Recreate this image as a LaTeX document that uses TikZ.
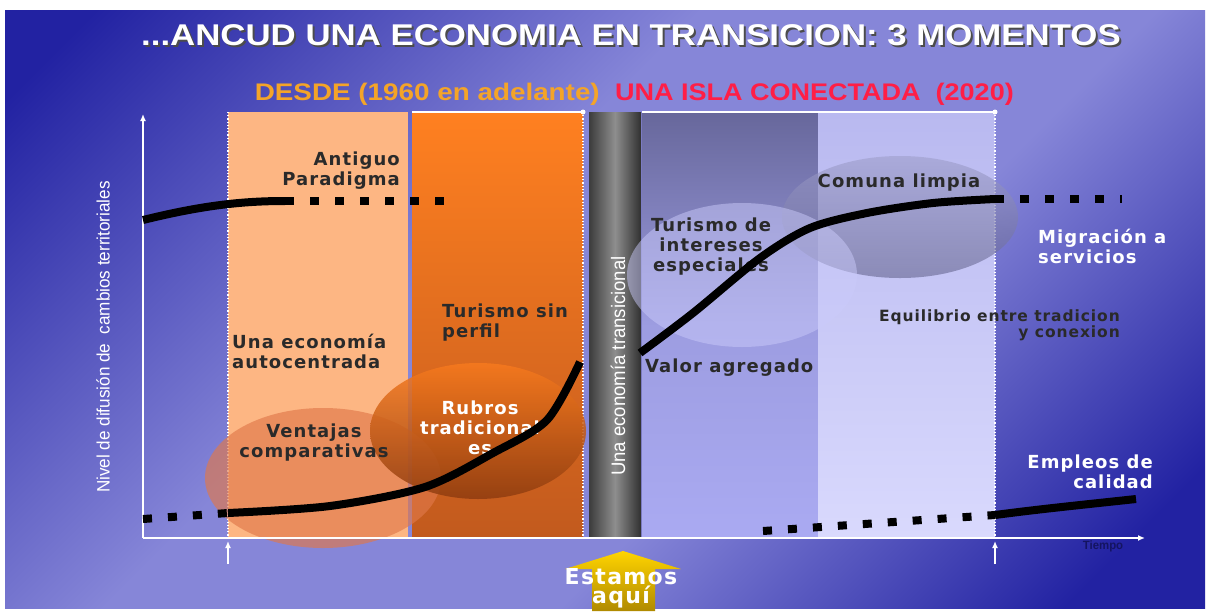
\documentclass[tikz,border=0pt]{standalone}
\usepackage{fontspec}
\setmainfont{Liberation Sans}
\newfontfamily\labfont[LetterSpace=6]{DejaVu Sans}
\newfontfamily\narrowfont[FakeStretch=0.95]{Liberation Sans}
\newfontfamily\widefont[FakeStretch=1.16]{Liberation Sans}
\usetikzlibrary{arrows.meta,positioning,calc}
\definecolor{bgdark}{HTML}{2222A2}
\definecolor{bglight}{HTML}{8686D8}
\definecolor{peach}{HTML}{FDB683}
\definecolor{orng}{HTML}{FF8020}
\definecolor{orngdk}{HTML}{C25A1E}
\definecolor{greydk}{HTML}{3C3C3C}
\definecolor{greylt}{HTML}{8E8E8E}
\definecolor{slate}{HTML}{67679B}
\definecolor{lav}{HTML}{AAAAF2}
\definecolor{lavlt}{HTML}{B9B9F0}
\definecolor{lavxl}{HTML}{D9D9FD}
\definecolor{salmon}{HTML}{E0784A}
\definecolor{rubtop}{HTML}{F77A1E}
\definecolor{rubbot}{HTML}{8E3C10}
\definecolor{turis}{HTML}{CACAFA}
\definecolor{comuna}{HTML}{8686BE}
\definecolor{txtdk}{HTML}{2A2A2A}
\definecolor{hdorange}{HTML}{F4A428}
\definecolor{hdred}{HTML}{FF1E46}
\definecolor{gold}{HTML}{FFD400}
\definecolor{golddk}{HTML}{B08A00}
\pgfdeclareverticalshading{slidebg}{100bp}{color(0bp)=(bgdark); color(20bp)=(bgdark); color(40bp)=(bglight); color(58bp)=(bglight); color(82bp)=(bgdark); color(100bp)=(bgdark)}

\begin{document}
\begin{tikzpicture}[
  x=1pt, y=-1pt, >={Latex[length=7pt,width=6pt]},
  title/.style={font=\widefont\bfseries\fontsize{30}{32}\selectfont, text=white, inner sep=0},
  head/.style={font=\widefont\bfseries\fontsize{24}{26}\selectfont, inner sep=0},
  lbl/.style={font=\labfont\bfseries\fontsize{18}{20}\selectfont, text=txtdk, inner sep=0, align=center},
  wlbl/.style={lbl, text=white},
  vlbl/.style={font=\narrowfont\fontsize{18}{18}\selectfont, text=white, inner sep=0, rotate=90},
  curve/.style={line width=8pt, line cap=butt},
  dots/.style={curve, dash pattern=on 9pt off 16pt},
  edge/.style={white, line width=1.2pt, dotted},
  axis/.style={white, line width=1.5pt, ->},
]
\useasboundingbox (0,0) rectangle (1209,611);
% slide background
\fill[white] (0,0) rectangle (1209,611);
\begin{scope}[y=1pt]
\shade[shading=slidebg, shading angle=45] (5,-10) rectangle (1205,-608);
\end{scope}
% title and periods
\node[title, text=black!70] (title-sh) at (633,37) {...ANCUD UNA ECONOMIA EN TRANSICION: 3 MOMENTOS};
\node[title] (title) at (631,35) {...ANCUD UNA ECONOMIA EN TRANSICION: 3 MOMENTOS};
\node[head, text=hdorange, anchor=east] (desde) at (600,94) {DESDE (1960 en adelante)};
\node[head, text=hdred, right=15pt of desde, xscale=0.97] (isla) {UNA ISLA CONECTADA\ \ (2020)};
% the five time bands
\fill[peach] (228,112) rectangle (408,537);
\shade[top color=orng, bottom color=orngdk] (412,112) rectangle (583,537);
\begin{scope}[y=1pt]
\shade[left color=greydk, right color=greydk!80!black, middle color=greylt] (589,-112) rectangle (641,-537);
\end{scope}
\shade[top color=slate, bottom color=lav, middle color=lav!80!slate] (642,112) rectangle (818,537);
\shade[top color=lavlt, bottom color=lavxl] (818,112) rectangle (995,537);
\draw[edge] (228,112) -- (228,537);
\draw[edge] (583,112) -- (583,537);
\draw[edge] (995,112) -- (995,537);
\draw[white, line width=1.5pt] (412,112) -- (583,112) (642,112) -- (995,112);
\fill[white] (583,112) circle (2.5) (995,112) circle (2.5);
% ellipses
\fill[salmon, opacity=0.65] (323,478) ellipse (118 and 70);
\shade[top color=rubtop, bottom color=rubbot, opacity=0.85] (478,431) ellipse (108 and 68);
\shade[top color=comuna!80!white, bottom color=comuna!75!black, opacity=0.6] (900,217) ellipse (118 and 61);
\fill[turis, opacity=0.5] (742,275) ellipse (115 and 72);
% axes
\coordinate (origin) at (143,538);
\coordinate (ytop) at (143,114);
\coordinate (xend) at (1145,538);
\coordinate (t1) at (228,564);
\coordinate (t2) at (995,564);
\draw[axis] (origin) -- (ytop);
\draw[axis] (origin) -- (xend);
\draw[axis, line width=2pt] (t1) -- (228,541);
\draw[axis, line width=2pt] (t2) -- (995,541);
\node[font=\narrowfont\bfseries\fontsize{12}{12}\selectfont, text=bgdark!60!black] (tiempo) at (1103,546) {Tiempo};
\node[vlbl] (ylabel) at (103,337) {Nivel de difusión de\ \ cambios territoriales};
\node[vlbl, font=\narrowfont\fontsize{19.5}{19.5}\selectfont] (transic) at (618,366) {Una economía transicional};
% labels
\node[lbl, align=right, anchor=east] (antiguo) at (400,171) {Antiguo\\Paradigma};
\node[lbl, align=left, anchor=west] (autoc) at (232,351) {Una economía\\autocentrada};
\node[lbl] (ventajas) at (314,443) {Ventajas\\comparativas};
\node[lbl, align=left, anchor=west] (tursin) at (442,323) {Turismo sin\\perfil};
\node[wlbl] (rubros) at (480,428) {Rubros\\tradicional\\es};
\node[lbl] (turesp) at (711,247) {Turismo de\\intereses\\especiales};
\node[lbl, anchor=west] (valor) at (645,368) {Valor agregado};
\node[lbl] (comunal) at (899,183) {Comuna limpia};
\node[wlbl, align=left, anchor=west] (migra) at (1038,246) {Migración a\\servicios};
\node[lbl, font=\labfont\bfseries\fontsize{15.5}{16}\selectfont, align=right, anchor=east] (equil) at (1120,325) {Equilibrio entre tradicion\\y conexion};
\node[wlbl, align=right, anchor=east] (empleos) at (1153,472) {Empleos de\\calidad};
% diffusion curves
\coordinate (a1) at (285,201);
\draw[curve] (143,220) .. controls (200,206) and (240,201) .. (a1);
\draw[dots] (a1) -- (455,201);
\coordinate (b1) at (228,513);
\draw[dots] (143,519) -- (b1);
\draw[curve] plot[smooth] coordinates {(b1) (330,506) (425,487) (493,453) (547,420) (580,362)};
\coordinate (c1) at (995,199);
\draw[curve] plot[smooth] coordinates {(640,353) (693,313) (760,258) (810,228) (867,213) (933,203) (c1)};
\draw[dots] (c1) -- (1122,199);
\coordinate (d1) at (995,515);
\draw[dots] (763,531) -- (d1);
\draw[curve] (d1) .. controls (1040,509) and (1090,504) .. (1136,499);
% we are here
\shade[top color=gold, bottom color=golddk] (623,551) -- (681,569) -- (655,569) -- (655,611) -- (592,611) -- (592,569) -- (565,569) -- cycle;
\node[wlbl, font=\labfont\bfseries\fontsize{22}{19}\selectfont] (aqui) at (621,588) {Estamos\\aquí};
\end{tikzpicture}
\end{document}
